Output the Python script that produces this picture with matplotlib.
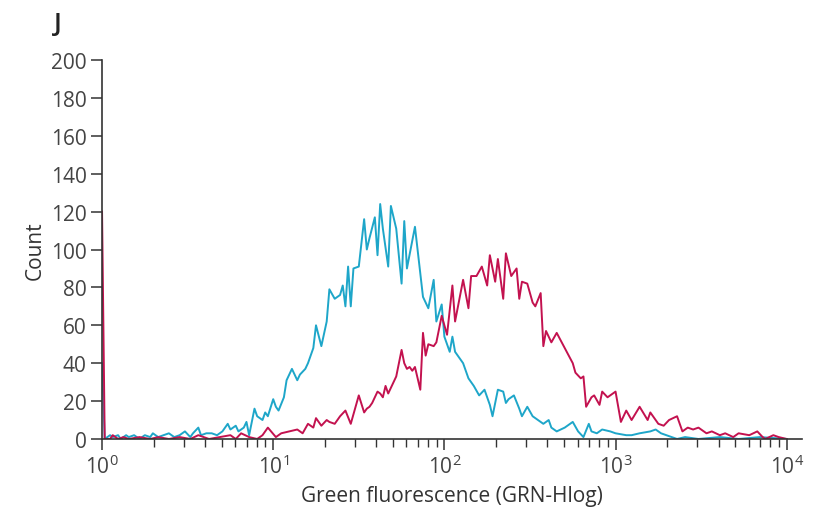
import numpy as np
import matplotlib
matplotlib.use('Agg')
import matplotlib.pyplot as plt
from matplotlib.ticker import LogLocator, NullFormatter, FixedLocator

plt.rcParams['font.family'] = ['Open Sans', 'DejaVu Sans']
plt.rcParams['mathtext.fontset'] = 'custom'
plt.rcParams['mathtext.rm'] = 'Open Sans'
plt.rcParams['mathtext.it'] = 'Open Sans:italic'

# Histogram channels (256 channels over 4 log decades) and counts
blue_ch = [0, 1, 3, 4, 6, 7, 9, 10, 12, 14, 16, 18, 19, 21, 23, 25, 27, 29, 31, 33,
           34, 36, 37, 39, 41, 43, 45, 47, 48, 50, 51, 53, 54, 55, 57, 58, 60, 61, 62, 64,
           65, 66, 68, 69, 71, 73, 74, 76, 77, 79, 80, 82, 84, 85, 87, 89, 90, 91, 92, 93,
           94, 96, 98, 99, 100, 102, 103, 104, 105, 107, 108, 110, 112, 113, 114, 117, 120, 122, 124, 125,
           127, 128, 130, 131, 132, 135, 137, 139, 141, 143, 145, 146, 148, 150, 151, 152, 154, 156, 157, 159,
           161, 163, 165, 167, 168, 170, 173, 176, 178, 180, 182, 183, 185, 187, 190, 192, 196, 198, 201, 205,
           207, 209, 211, 213, 215, 218, 223, 231, 238, 246, 256]
blue_count = [40, 0, 2, 1, 2, 0, 2, 1, 2, 0, 2, 1, 3, 1, 2, 3, 1, 2, 4, 1,
              3, 6, 2, 3, 3, 2, 4, 8, 5, 7, 4, 6, 9, 2, 16, 12, 10, 14, 12, 21,
              17, 15, 22, 31, 37, 31, 34, 37, 40, 48, 60, 49, 62, 79, 74, 76, 81, 70, 91, 70,
              90, 91, 116, 100, 106, 117, 97, 124, 111, 91, 123, 111, 82, 115, 90, 112, 75, 69, 84, 62,
              71, 54, 46, 54, 46, 40, 32, 28, 23, 26, 18, 12, 26, 25, 19, 21, 23, 16, 12, 17,
              12, 10, 8, 10, 6, 4, 6, 9, 4, 1, 8, 4, 3, 5, 4, 3, 2, 2, 3, 4,
              5, 3, 2, 1, 0, 1, 0, 1, 0, 1, 0]

red_ch = [0, 1, 3, 4, 6, 8, 10, 14, 18, 21, 25, 29, 33, 36, 40, 44, 48, 50, 52, 55,
          58, 60, 62, 65, 67, 70, 73, 75, 77, 79, 80, 82, 84, 85, 87, 89, 91, 93, 95, 96,
          98, 99, 100, 101, 103, 104, 105, 106, 107, 109, 110, 112, 113, 114, 115, 116, 117, 119, 120, 121,
          122, 124, 125, 127, 129, 131, 132, 135, 137, 138, 140, 142, 144, 145, 147, 148, 150, 151, 153, 155,
          156, 157, 159, 161, 162, 164, 165, 166, 167, 168, 170, 173, 176, 177, 179, 180, 181, 183, 184, 186,
          187, 189, 191, 192, 194, 196, 198, 201, 204, 205, 208, 210, 212, 215, 217, 219, 221, 223, 226, 228,
          231, 233, 236, 238, 242, 245, 247, 248, 251, 253, 256]
red_count = [120, 0, 0, 2, 0, 1, 0, 1, 0, 1, 0, 1, 0, 2, 0, 1, 2, 0, 3, 1,
             0, 2, 6, 1, 3, 4, 5, 3, 8, 6, 11, 7, 10, 9, 8, 12, 15, 8, 18, 23,
             14, 16, 17, 19, 25, 24, 22, 28, 24, 30, 33, 47, 40, 37, 38, 36, 38, 26, 56, 44,
             50, 49, 51, 65, 55, 81, 62, 84, 69, 86, 86, 91, 81, 97, 83, 95, 74, 98, 86, 90,
             74, 83, 82, 72, 70, 77, 49, 57, 54, 51, 56, 48, 40, 35, 32, 33, 17, 22, 23, 18,
             25, 22, 24, 25, 9, 15, 10, 17, 10, 14, 8, 7, 10, 12, 4, 6, 5, 6, 3, 4,
             2, 3, 1, 3, 2, 4, 1, 0, 2, 1, 0]

y_ticks = [0, 20, 40, 60, 80, 100, 120, 140, 160, 180, 200]

blue_x = 10 ** (np.array(blue_ch) / 64.0)
red_x = 10 ** (np.array(red_ch) / 64.0)

fig = plt.figure(figsize=(8.15, 5.10), dpi=100)
ax = fig.add_axes([0.1252, 0.1373, 0.859, 0.743])

ax.plot(blue_x, blue_count, color='#1ea6c9', linewidth=1.4)
ax.plot(red_x, red_count, color='#c3124f', linewidth=1.4)

ax.set_xscale('log')
ax.set_xlim(1.0, 10 ** 4.09)
ax.set_ylim(0, 200)
ax.set_yticks(y_ticks)

ax.xaxis.set_major_locator(FixedLocator([1, 10, 100, 1000, 10000]))
ax.set_xticklabels([r'$\mathregular{10^{%d}}$' % i for i in range(5)])
ax.xaxis.set_minor_locator(LogLocator(base=10, subs=np.arange(2, 10)))
ax.xaxis.set_minor_formatter(NullFormatter())

for side in ['top', 'right']:
    ax.spines[side].set_visible(False)
for side in ['left', 'bottom']:
    ax.spines[side].set_color('#333333')
    ax.spines[side].set_linewidth(1.2)

ax.tick_params(axis='both', which='major', direction='out', length=8, width=1.1,
               color='#333333', labelsize=15, labelcolor='#444444')
ax.tick_params(axis='x', which='minor', direction='out', length=5.5, width=1.0, color='#333333')
ax.tick_params(axis='x', which='major', pad=3)
ax.tick_params(axis='y', which='major', pad=3)

ax.set_xlabel('Green fluorescence (GRN-Hlog)', fontsize=15, color='#333333', labelpad=5)
ax.set_ylabel('Count', fontsize=15, color='#333333', labelpad=4)

fig.text(0.066, 0.952, 'J', fontsize=19, fontweight='semibold', color='#222222',
         va='center', ha='left')

fig.savefig('out.png', dpi=100)
